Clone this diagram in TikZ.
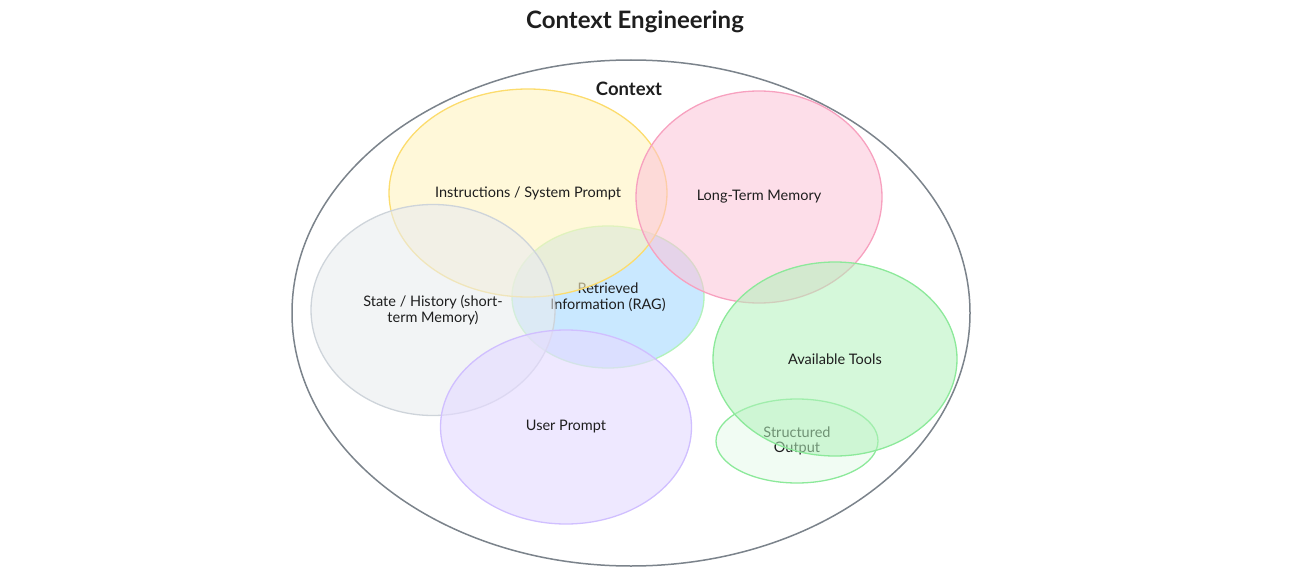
\documentclass[tikz,border=0pt]{standalone}
\usepackage{fontspec}
\setmainfont{Lato}
\usetikzlibrary{shapes.geometric}
\definecolor{outerc}{HTML}{7B838B}
\definecolor{yfill}{HTML}{FFF3BF}\definecolor{ystroke}{HTML}{FCDC6D}
\definecolor{pfill}{HTML}{FCC2D7}\definecolor{pstroke}{HTML}{F7A1BF}
\definecolor{gfill}{HTML}{E9ECEF}\definecolor{gstroke}{HTML}{CED4DA}
\definecolor{bfill}{HTML}{A5D8FF}\definecolor{bstroke}{HTML}{B2F2BB}
\definecolor{vfill}{HTML}{E5DBFF}\definecolor{vstroke}{HTML}{D0BFFF}
\definecolor{tfill}{HTML}{B2F2BB}\definecolor{tstroke}{HTML}{8CE99A}
\definecolor{sfill}{HTML}{EBFBEE}
\definecolor{txt}{HTML}{1E1E1E}
\tikzset{
  blob/.style={ellipse, inner sep=0pt, line width=1.3pt, align=center,
    text=txt, font=\fontsize{14.5}{15.5}\selectfont, text opacity=1},
}
\begin{document}
\begin{tikzpicture}[x=1pt,y=-1pt]
\useasboundingbox (0,0) rectangle (1294,586);
\node[font=\fontsize{24}{27}\selectfont\bfseries, text=txt] (title) at (635,22) {Context Engineering};
\node[ellipse, draw=outerc, line width=1.5pt, minimum width=678pt, minimum height=506pt, inner sep=0pt] (ctx) at (631,313) {};
\node[font=\fontsize{18.5}{21}\selectfont\bfseries, text=txt] (ctxlabel) at (629,89) {Context};
\node[blob, draw=bstroke, fill=bfill, fill opacity=0.6, draw opacity=1, minimum width=192pt, minimum height=142pt] (rag) at (608,297) {Retrieved\\Information (RAG)};
\node[blob, draw=tstroke, fill=sfill, fill opacity=0.7, minimum width=162pt, minimum height=84pt] (out) at (797,441) {Structured\\Output};
\node[blob, draw=ystroke, fill=yfill, fill opacity=0.6, minimum width=278pt, minimum height=208pt] (instr) at (528,193) {Instructions / System Prompt};
\node[blob, draw=pstroke, fill=pfill, fill opacity=0.55, minimum width=246pt, minimum height=212pt] (ltm) at (759,197) {Long-Term Memory};
\node[blob, draw=gstroke, fill=gfill, fill opacity=0.6, minimum width=244pt, minimum height=211pt] (state) at (433,310) {State / History (short-\\term Memory)};
\node[blob, draw=vstroke, fill=vfill, fill opacity=0.65, minimum width=251pt, minimum height=194pt] (user) at (566,427) {User Prompt};
\node[blob, draw=tstroke, fill=tfill, fill opacity=0.55, minimum width=244pt, minimum height=194pt] (tools) at (835,359) {Available Tools};
\end{tikzpicture}
\end{document}
